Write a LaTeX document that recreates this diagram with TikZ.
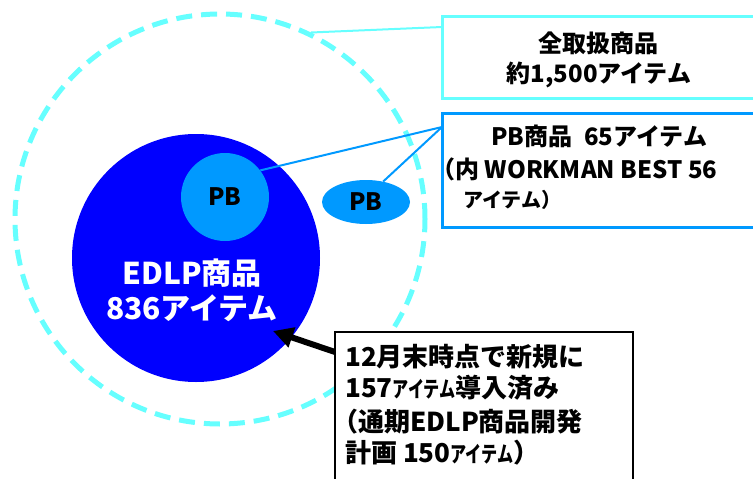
\documentclass[tikz,border=0pt]{standalone}
\usepackage{fontspec}
\setmainfont{Noto Sans CJK JP}
\usetikzlibrary{shapes.geometric,arrows.meta,calc}
\definecolor{cyanl}{RGB}{102,255,255}
\definecolor{pbblue}{RGB}{0,153,255}
\definecolor{edlpblue}{RGB}{0,0,255}
\newcommand{\narrowkana}[1]{\scalebox{0.62}[0.85]{#1}}
\tikzset{
  fs/.style={font=\bfseries\fontsize{#1}{#1}\selectfont},
  boxa/.style={draw=cyanl, line width=3pt, fill=white, inner sep=0pt},
  boxb/.style={draw=pbblue, line width=3pt, fill=white, inner sep=0pt},
  boxc/.style={draw=black, line width=2pt, fill=white, inner sep=0pt},
  txt/.style={inner sep=0pt, text=black},
}
\begin{document}
\begin{tikzpicture}[x=1pt,y=-1pt]
\useasboundingbox (0,0) rectangle (753,479);
\clip (0,0) rectangle (753,479);
% outer dashed circle
\node[circle, draw=cyanl, line width=5pt, dash pattern=on 16pt off 9pt, minimum size=410pt, inner sep=0pt] (outer) at (220,219) {};
% EDLP circle
\node[circle, fill=edlpblue, minimum size=248pt, inner sep=0pt] (edlp) at (196,258) {};
\node[txt, fs=30, text=white] (e1) at (192,273) {EDLP商品};
\node[txt, fs=30, text=white] (e2) at (192,308) {836アイテム};
% PB circle
\node[circle, fill=pbblue, minimum size=88pt, inner sep=0pt, fs=24] (pb1) at (225,197) {PB};
% PB ellipse
\node[ellipse, fill=pbblue, minimum width=88pt, minimum height=44pt, inner sep=0pt, fs=24] (pb2) at (366,202) {PB};
% boxes
\node[boxa, minimum width=318pt, minimum height=82pt] (b1) at (601,57) {};
\node[boxb, minimum width=318pt, minimum height=114pt] (b2) at (601,170) {};
\node[boxc, minimum width=298pt, minimum height=158pt] (b3) at (484,411) {};
% connectors
\coordinate (c1) at (442,27);
\coordinate (c2) at (442,127);
\coordinate (c3) at (335,352);
\coordinate (tip) at (273,331);
\draw[cyanl, line width=2pt] (outer.64) -- (c1);
\draw[pbblue, line width=2pt] (pb1.37) -- (c2);
\draw[pbblue, line width=2pt] (pb2.50) -- (c2);
\draw[black, line width=6pt, -{Triangle[length=20pt,width=20pt]}] (c3) -- (tip);
% box texts
\node[txt, fs=24] (t1a) at (598,43) {全取扱商品};
\node[txt, fs=24] (t1b) at (599,75) {約1,500アイテム};
\node[txt, fs=24] (t2a) at (599,136) {PB商品\hspace{0.5em}65アイテム};
\node[txt, fs=24, anchor=west] (t2b) at (431,169) {（内 WORKMAN BEST 56};
\node[txt, fs=20, anchor=west] (t2c) at (463,200) {アイテム）};
\node[txt, fs=26, anchor=west] (t3a) at (345,357) {12月末時点で新規に};
\node[txt, fs=26, anchor=west] (t3b) at (345,388) {157\narrowkana{アイテム}導入済み};
\node[txt, fs=26, anchor=west] (t3c) at (332,422) {（通期EDLP商品開発};
\node[txt, fs=26, anchor=west] (t3d) at (345,453) {計画 150\narrowkana{アイテム}）};
\end{tikzpicture}
\end{document}
